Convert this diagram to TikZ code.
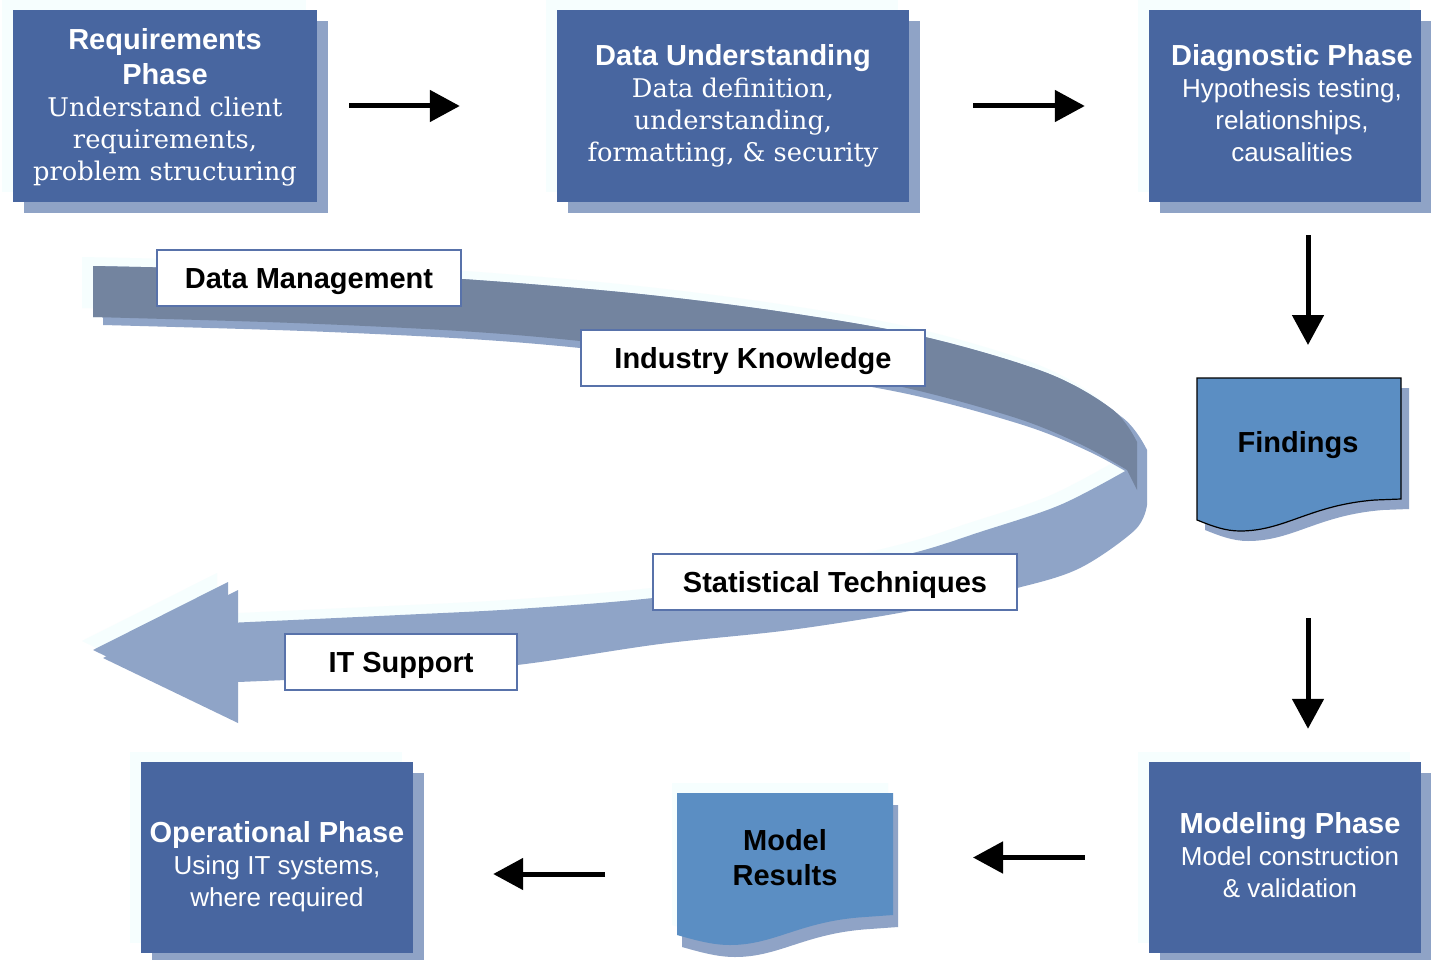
\documentclass[tikz,border=0pt]{standalone}
\usepackage{fontspec}
\setmainfont{Liberation Sans}
\newfontfamily\bodyserif{DejaVu Serif}
\usetikzlibrary{arrows.meta,calc,shadows}

\definecolor{phaseblue}{HTML}{4866A0}
\definecolor{shadeblue}{HTML}{8FA3C6}
\definecolor{haze}{HTML}{F6FEFE}
\definecolor{docblue}{HTML}{5B8EC3}
\definecolor{bandslate}{HTML}{73849F}
\definecolor{bandlight}{HTML}{8FA4C7}
\definecolor{tagline}{HTML}{5872AA}

\newcommand\phasetitle{\fontsize{29}{35}\selectfont\bfseries}
\newcommand\phasebody{\fontsize{26}{32}\selectfont\mdseries}
\newcommand\phaseserif{\bodyserif\fontsize{25.7}{32}\selectfont\mdseries}

% outline of the whole curved ribbon arrow
\def\ribbonshape{
  plot[smooth,tension=.55] coordinates {(93,266) (300,271) (462,279) (640,294) (790,313) (925,337) (1047,373) (1113,410) (1137,442)}
  -- (1137,497)
  -- plot[smooth,tension=.55] coordinates {(1137,497) (1125,522) (1070,560) (1007,580) (900,603) (780,622) (650,636) (507,657) (380,667) (228,674)}
  -- (228,715) -- (93,650) -- (228,582) -- (228,623)
  -- plot[smooth,tension=.55] coordinates {(228,623) (400,615) (517,609) (653,598) (800,578) (913,553) (980,532) (1060,505) (1127,470)}
  -- plot[smooth,tension=.55] coordinates {(1127,470) (1080,444) (1013,417) (893,385) (740,360) (580,341) (460,331) (294,323) (93,317)}
  -- cycle}
% the far (darker) half of the ribbon
\def\ribbonback{
  plot[smooth,tension=.55] coordinates {(93,266) (300,271) (462,279) (640,294) (790,313) (925,337) (1047,373) (1113,410) (1137,442)}
  -- (1137,490) -- (1127,470)
  -- plot[smooth,tension=.55] coordinates {(1127,470) (1080,444) (1013,417) (893,385) (740,360) (580,341) (460,331) (294,323) (93,317)}
  -- cycle}
% page-style shapes with a wavy bottom
\def\findingsshape{(1197,378) -- (1401,378) -- (1401,499) -- (1375,500)
  .. controls (1310,505) and (1285,531) .. (1240,531)
  .. controls (1225,531) and (1212,526) .. (1197,520) -- cycle}
\def\resultsshape{(677,793) -- (893,793) -- (893,915) -- (865,917)
  .. controls (800,921) and (775,945) .. (730,945)
  .. controls (712,945) and (695,940) .. (677,935) -- cycle}

\tikzset{
  phasebox/.style={rectangle, fill=phaseblue, inner sep=0pt,
    drop shadow={shadow xshift=-11pt, shadow yshift=10pt, fill=haze, opacity=1},
    drop shadow={shadow xshift=11pt, shadow yshift=-11pt, fill=shadeblue, opacity=1}},
  phasetext/.style={text=white, align=center, inner sep=0pt, font=\fontsize{26}{32}\selectfont},
  tag/.style={rectangle, draw=tagline, line width=1.5pt, fill=white, inner sep=0pt,
    text height=21pt, text depth=0pt, font=\fontsize{29}{35}\selectfont\bfseries},
  doctext/.style={align=center, inner sep=0pt, font=\fontsize{29}{35}\selectfont\bfseries},
  flow/.style={line width=5pt, -{Triangle[length=30pt,width=31pt]}},
}

\begin{document}
\begin{tikzpicture}[x=1pt,y=-1pt]
\useasboundingbox[fill=white] (0,0) rectangle (1431,960);

% ---- curved ribbon: haze, drop shadow, front and back faces
\fill[haze, shift={(-11,-9)}] \ribbonshape;
\fill[bandlight, shift={(10,8)}] \ribbonshape;
\fill[bandlight] \ribbonshape;
\fill[bandslate] \ribbonback;

% ---- ribbon labels
\node[tag, minimum width=304pt, minimum height=56pt] (dm) at (309,278) {Data Management};
\node[tag, minimum width=344pt, minimum height=56pt] (ik) at (753,358) {Industry Knowledge};
\node[tag, minimum width=364pt, minimum height=56pt] (st) at (835,582) {Statistical Techniques};
\node[tag, minimum width=232pt, minimum height=56pt] (its) at (401,662) {IT Support};

% ---- phase boxes
\node[phasebox, minimum width=304pt, minimum height=192pt] (req) at (165,106) {};
\node[phasebox, minimum width=352pt, minimum height=192pt] (du) at (733,106) {};
\node[phasebox, minimum width=272pt, minimum height=192pt] (diag) at (1285,106) {};
\node[phasebox, minimum width=272pt, minimum height=191pt] (model) at (1285,857.5) {};
\node[phasebox, minimum width=272pt, minimum height=191pt] (op) at (277,857.5) {};

\node[phasetext] (reqt) at (165,107) {\phasetitle Requirements\\[3pt]\phasetitle Phase\\\phaseserif Understand client\\\phaseserif requirements,\\\phaseserif problem structuring};
\node[phasetext] (dut) at (733,105.5) {\phasetitle Data Understanding\\\phaseserif Data definition,\\\phaseserif understanding,\\\phaseserif formatting, \& security};
\node[phasetext] (diagt) at (1292,103) {\phasetitle Diagnostic Phase\\\phasebody Hypothesis testing,\\\phasebody relationships,\\\phasebody causalities};
\node[phasetext] (modelt) at (1290,855) {\phasetitle Modeling Phase\\\phasebody Model construction\\\phasebody \& validation};
\node[phasetext] (opt) at (277,867) {\phasetitle Operational Phase\\\phasebody Using IT systems,\\\phasebody where required};

% ---- document shapes
\fill[shadeblue, shift={(8,10)}] \findingsshape;
\filldraw[fill=docblue, draw=black, line width=1.2pt] \findingsshape;
\fill[haze, shift={(-5,-10)}] \resultsshape;
\fill[shadeblue, shift={(5,12)}] \resultsshape;
\fill[docblue] \resultsshape;
\node[doctext] (find) at (1298,445) {Findings};
\node[doctext] (res) at (785,858) {Model\\Results};

% ---- flow arrows
\draw[flow] ($(req.east)+(32,0)$) -- ($(du.west)+(-97,0)$);
\draw[flow] ($(du.east)+(64,0)$) -- ($(diag.west)+(-64,0)$);
\draw[flow] ($(diag.south)+(23,33)$) -- ($(find.center)+(10,-100)$);
\draw[flow] ($(find.center)+(10,173)$) -- ($(model.north)+(23,-33)$);
\draw[flow] ($(model.west)+(-64,0)$) -- ($(res.center |- model.west)+(188,0)$);
\draw[flow] ($(res.center)+(-180,16)$) -- ($(op.east |- res.center)+(80,16)$);
\end{tikzpicture}
\end{document}
